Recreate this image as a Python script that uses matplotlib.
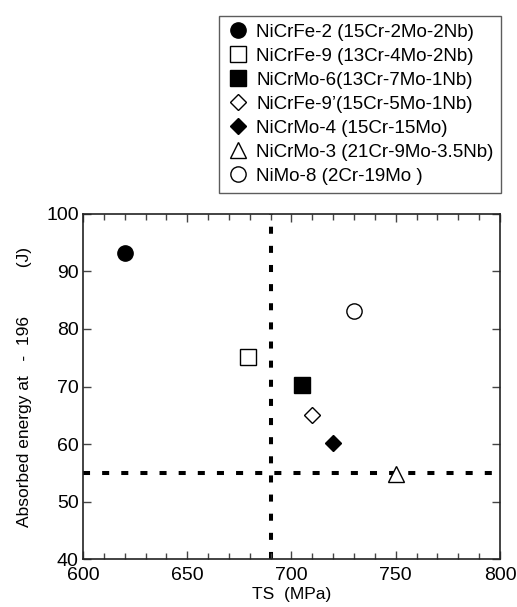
import matplotlib
matplotlib.use("Agg")
import matplotlib.pyplot as plt
from matplotlib.ticker import MultipleLocator

plt.rcParams['font.family'] = ['Liberation Sans', 'DejaVu Sans']

labels = ["NiCrFe-2 (15Cr-2Mo-2Nb)", "NiCrFe-9 (13Cr-4Mo-2Nb)", "NiCrMo-6(13Cr-7Mo-1Nb)",
          "NiCrFe-9\u2019(15Cr-5Mo-1Nb)", "NiCrMo-4 (15Cr-15Mo)", "NiCrMo-3 (21Cr-9Mo-3.5Nb)",
          "NiMo-8 (2Cr-19Mo )"]
ts = [620, 679, 705, 710, 720, 750, 730]
energy = [93.2, 75.2, 70.2, 65.0, 60.1, 54.8, 83.2]
markers = ['o', 's', 's', 'D', 'D', '^', 'o']
filled = [True, False, True, False, True, False, False]
sizes = [11, 11, 11, 8, 8, 12, 11]
ts_limit = 690
energy_limit = 55

fig = plt.figure(figsize=(5.17, 6.07), dpi=100)
ax = fig.add_axes([0.1605, 0.079, 0.8065, 0.5685])

ax.axvline(ts_limit, color='black', lw=2.9, linestyle=(0, (1.75, 3)), zorder=1)
ax.axhline(energy_limit, color='black', lw=2.9, linestyle=(0, (1.75, 3)), zorder=1)

for x, y, m, f, s, lab in zip(ts, energy, markers, filled, sizes, labels):
    ax.plot([x], [y], linestyle='none', marker=m, markersize=s,
            markerfacecolor='black' if f else 'white', markeredgecolor='black',
            markeredgewidth=1.0, label=lab, zorder=3)

ax.set_xlim(600, 800)
ax.set_ylim(40, 100)
ax.xaxis.set_major_locator(MultipleLocator(50))
ax.xaxis.set_minor_locator(MultipleLocator(10))
ax.yaxis.set_major_locator(MultipleLocator(10))
ax.tick_params(axis='x', which='both', direction='in', top=True, bottom=True, labelsize=14, pad=6)
ax.tick_params(axis='y', which='both', direction='in', left=True, right=True, labelsize=14, pad=3)
ax.tick_params(which='major', length=6, width=1, color='#444444')
ax.tick_params(which='minor', length=4, width=1, color='#444444')
for sp in ax.spines.values():
    sp.set_linewidth(1.2)
    sp.set_color('#222222')

ax.set_xlabel("TS  (MPa)", fontsize=12.5, labelpad=2)
ax.set_ylabel("Absorbed energy at   -  196          (J)", fontsize=12.5, labelpad=10)

leg = fig.legend(loc='upper right', bbox_to_anchor=(501/517, 1 - 16/607),
                 fontsize=13.5, frameon=True, fancybox=False, edgecolor='#333333',
                 handletextpad=0.35, handlelength=1.23, labelspacing=0.37,
                 borderpad=0.4, borderaxespad=0)
leg.get_frame().set_linewidth(1.0)

fig.savefig("out.png", dpi=100)
